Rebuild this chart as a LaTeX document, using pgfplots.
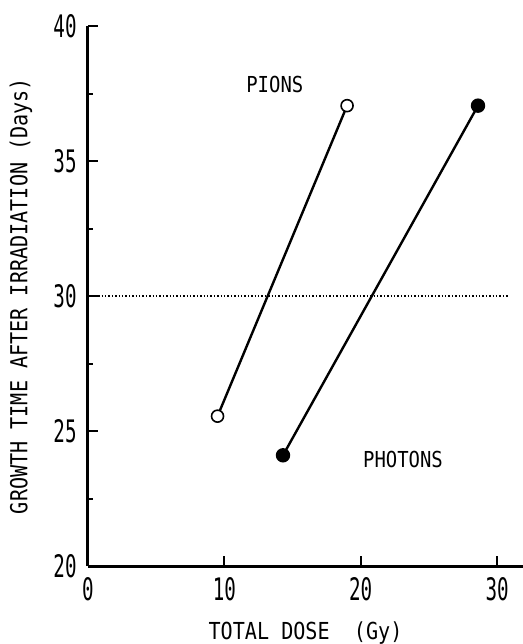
\documentclass[border=0pt]{standalone}
\usepackage{fontspec}
\usepackage{pgfplots}
\pgfplotsset{compat=1.18}
\newfontfamily\lblfont{DejaVu Sans Mono}[FakeStretch=0.86]
\newfontfamily\tickfont{DejaVu Sans Mono}[FakeStretch=0.62]

\begin{document}
\begin{tikzpicture}
\useasboundingbox (-44pt,-39pt) rectangle (217.5pt,283pt);
\begin{axis}[
  scale only axis,
  width=217.5pt, height=270pt,
  xmin=0, xmax=31.9, ymin=20, ymax=40,
  axis lines*=left,
  axis line style={line width=1.5pt},
  xtick={0,10,20,30},
  ytick={20,25,30,35,40},
  minor y tick num=1,
  tick align=inside,
  major tick length=5pt, minor tick length=2.5pt,
  every tick/.style={black, line width=1pt},
  /pgf/number format/assume math mode=true,
  ticklabel style={font=\tickfont\fontsize{15.5}{16}\selectfont},
  xticklabel style={anchor=north, inner sep=0pt, yshift=-5.5pt},
  yticklabel style={anchor=east, inner sep=0pt, xshift=-5.5pt},
  xlabel={TOTAL DOSE\ \ (Gy)},
  ylabel={GROWTH TIME AFTER IRRADIATION (Days)},
  label style={font=\lblfont\fontsize{11.7}{12}\selectfont},
  xlabel style={at={(rel axis cs:0.5,0)}, anchor=center, yshift=-33.5pt},
  ylabel style={at={(rel axis cs:0,0.5)}, anchor=center, yshift=33.5pt},
  clip=false,
]
% reference level
\addplot[black, line width=0.7pt, densely dotted] coordinates {(0,30) (30.8,30)};
% pions
\addplot[black, line width=1.2pt, mark=*, mark size=3pt,
  mark options={fill=white, line width=0.8pt}] coordinates {(9.5,25.55) (19.0,37.05)};
% photons
\addplot[black, line width=1.2pt, mark=*, mark size=3pt,
  mark options={fill=black}] coordinates {(14.3,24.1) (28.6,37.05)};
\node[font=\lblfont\fontsize{11}{12}\selectfont] at (axis cs:13.7,37.85) {PIONS};
\node[font=\lblfont\fontsize{11}{12}\selectfont] at (axis cs:23.1,23.93) {PHOTONS};
\end{axis}
\end{tikzpicture}
\end{document}
